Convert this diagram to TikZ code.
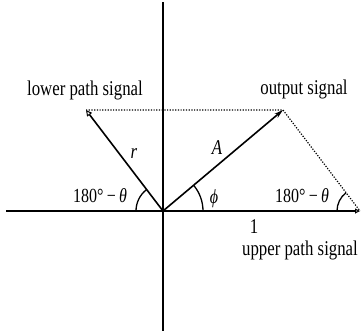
\documentclass[tikz,border=0pt]{standalone}
\usepackage{fontspec}
\setmainfont{Liberation Serif}[FakeStretch=0.8]
\usetikzlibrary{arrows.meta}
\tikzset{
  axis/.style={line width=1.7pt},
  vec/.style={line width=1.6pt},
  dots/.style={line width=1.2pt, dash pattern=on 1.2pt off 1.5pt},
  anglearc/.style={line width=1.3pt},
  lbl/.style={inner sep=0pt, anchor=base, font=\fontsize{21}{24}\selectfont},
  anglbl/.style={inner sep=0pt, anchor=base, font=\fontsize{20}{24}\selectfont},
}
\begin{document}
\begin{tikzpicture}[x=1pt,y=-1pt]
\useasboundingbox (0,0) rectangle (364,333);
\coordinate (O) at (163,211);
\coordinate (L) at (86,110);
\coordinate (P) at (283,110);
\coordinate (U) at (360,211);
\coordinate (W) at (6,211);
\coordinate (N) at (163,2);
\coordinate (S) at (163,331);
% axes
\draw[axis] (N) -- (S);
\draw[axis] (W) -- (O);
\draw[axis, -{Triangle[open, length=5pt, width=5pt, line width=1pt]}] (O) -- (U);
% vectors
\draw[vec, -{Triangle[open, length=6pt, width=6pt, line width=1pt]}] (O) -- (L);
\draw[vec, -{Stealth[length=9pt, width=5pt]}] (O) -- (P);
% dotted lines
\draw[dots] (L) -- (P) -- (U);
% angle arcs
\draw[anglearc] ([shift={(180:27)}]O) arc[start angle=180, end angle=232.7, radius=27];
\draw[anglearc] ([shift={(0:40)}]O) arc[start angle=0, end angle=-40.1, radius=40];
\draw[anglearc] ([shift={(180:23)}]U) arc[start angle=180, end angle=232.7, radius=23];
% labels
\node[lbl] (ll) at (85,95) {lower path signal};
\node[lbl] (ol) at (304,94) {output signal};
\node[lbl] (ul) at (300,255) {upper path signal};
\node[lbl] (one) at (254,233) {1};
\node[lbl] (rl) at (134,158) {\itshape r};
\node[lbl] (al) at (217,154) {\itshape A};
\node[anglbl] (a1) at (100,202) {180°\,−\,\textit{θ}};
\node[anglbl] (a2) at (302,202) {180°\,−\,\textit{θ}};
\node[anglbl] (ph) at (214,203) {\textit{ϕ}};
\end{tikzpicture}
\end{document}
